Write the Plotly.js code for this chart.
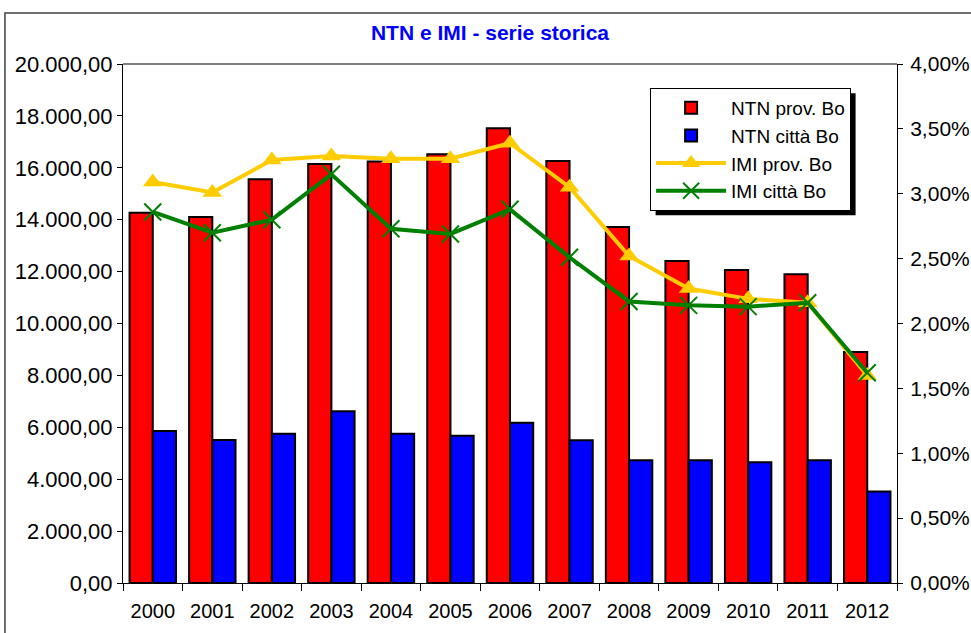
<!DOCTYPE html>
<html>
<head>
<meta charset="utf-8">
<script src="https://cdn.plot.ly/plotly-3.0.1.min.js"></script>
<style>
  html, body { margin: 0; padding: 0; background: #fff; }
  #chart { width: 971px; height: 633px; }
</style>
</head>
<body>
<div id="chart"></div>
<script>
// anni
var years = ['2000', '2001', '2002', '2003', '2004', '2005', '2006',
             '2007', '2008', '2009', '2010', '2011', '2012'];

// NTN (numero transazioni normalizzate)
var ntnProv = [14270, 14100, 15560, 16150, 16240, 16520, 17520,
               16260, 13720, 12410, 12060, 11900, 8900];
var ntnCitta = [5860, 5510, 5750, 6620, 5750, 5670, 6180,
                5500, 4730, 4730, 4650, 4730, 3530];

// IMI (intensita' del mercato immobiliare), in frazione
var imiProv = [0.0309, 0.0301, 0.0326, 0.0329, 0.0327, 0.0327, 0.0339,
               0.0305, 0.0252, 0.0227, 0.0219, 0.0216, 0.0160];
var imiCitta = [0.0286, 0.0270, 0.0280, 0.0315, 0.0273, 0.0269, 0.0288,
                0.0251, 0.0217, 0.0214, 0.0213, 0.0216, 0.0162];

var font = 'Liberation Sans, Arial, sans-serif';

var traces = [
    {
        type: 'bar',
        x: years,
        y: ntnProv,
        name: 'NTN prov. Bo',
        marker: {color: '#FF0000', line: {color: '#000000', width: 2}}
    },
    {
        type: 'bar',
        x: years,
        y: ntnCitta,
        name: 'NTN città Bo',
        marker: {color: '#0000FF', line: {color: '#000000', width: 2}}
    },
    {
        type: 'scatter',
        mode: 'lines+markers',
        x: years,
        y: imiProv,
        yaxis: 'y2',
        name: 'IMI prov. Bo',
        line: {color: '#FFCC00', width: 4},
        marker: {symbol: 'triangle-up', size: 17, color: '#FFCC00'}
    },
    {
        type: 'scatter',
        mode: 'lines+markers',
        x: years,
        y: imiCitta,
        yaxis: 'y2',
        name: 'IMI città Bo',
        line: {color: '#008000', width: 4},
        marker: {symbol: 'x-thin-open', size: 17, color: '#008000',
                 line: {color: '#008000', width: 2}}
    }
];

var layout = {
    width: 971,
    height: 633,
    separators: ',.',
    paper_bgcolor: '#ffffff',
    plot_bgcolor: '#ffffff',
    font: {family: font, size: 20, color: '#000000'},
    margin: {l: 123, r: 74, t: 64, b: 50}, // plot area
    title: {
        text: '<b>NTN e IMI - serie storica</b>',
        font: {family: font, size: 21, color: '#0000FF'},
        x: 0.5046, xanchor: 'center',
        y: 0.949, yanchor: 'middle'
    },
    barmode: 'group',
    bargap: 0.22,
    bargroupgap: 0,
    showlegend: true,
    legend: {
        x: 0.681, y: 0.954, xanchor: 'left', yanchor: 'top',
        bgcolor: '#ffffff',
        bordercolor: '#000000',
        borderwidth: 1,
        font: {family: font, size: 19},
        itemwidth: 70,
        tracegroupgap: 0
    },
    xaxis: {
        type: 'category',
        range: [-0.5, 12.5],
        showline: true,
        linecolor: '#000000',
        linewidth: 1,
        ticks: 'outside',
        tickson: 'boundaries',
        ticklen: 7,
        tickcolor: '#000000',
        ticklabelstandoff: 10,
        showgrid: false,
        tickfont: {family: font, size: 20}
    },
    yaxis: {
        range: [0, 20000],
        dtick: 2000,
        tickformat: ',.2f',
        showline: true,
        linecolor: '#000000',
        ticks: 'outside',
        ticklen: 5,
        tickcolor: '#000000',
        showgrid: false,
        zeroline: false,
        tickfont: {family: font, size: 22}
    },
    yaxis2: {
        range: [0, 0.04],
        dtick: 0.005,
        tickformat: '.2%',
        overlaying: 'y',
        side: 'right',
        anchor: 'x',
        showline: true,
        linecolor: '#000000',
        ticks: 'outside',
        ticklen: 5,
        tickcolor: '#000000',
        ticklabelstandoff: 3,
        showgrid: false,
        zeroline: false,
        tickfont: {family: font, size: 21}
    },
    shapes: [
        // bordo superiore dell'area del grafico
        {type: 'line', xref: 'paper', yref: 'paper', x0: 0, x1: 1, y0: 1, y1: 1,
         line: {color: '#808080', width: 2}},
        // cornice esterna del grafico
        {type: 'rect', xref: 'paper', yref: 'paper', x0: -0.1525, x1: 1.2, y0: -0.2, y1: 1.0983,
         line: {color: '#404040', width: 1.5}}
    ]
};

Plotly.newPlot('chart', traces, layout, {displayModeBar: false, responsive: false}).then(function (gd) {
    // ombra della legenda, come in Excel: stesso riquadro spostato di 5px
    var bg = gd.querySelector('.legend .bg');
    if (!bg) return;
    var box = bg.getBoundingClientRect();
    var host = gd.getBoundingClientRect();
    var sz = gd._fullLayout._size;
    var off = 5;
    function px2x(px) { return (px - host.left - sz.l) / sz.w; }
    function py2y(py) { return 1 - (py - host.top - sz.t) / sz.h; }
    var shapes = layout.shapes.slice();
    shapes.push({
        type: 'rect', xref: 'paper', yref: 'paper', layer: 'above',
        x0: px2x(box.left + off), x1: px2x(box.right + off),
        y0: py2y(box.bottom + off), y1: py2y(box.top + off),
        fillcolor: '#000000', line: {width: 0}
    });
    return Plotly.relayout(gd, {shapes: shapes});
});
</script>
</body>
</html>
